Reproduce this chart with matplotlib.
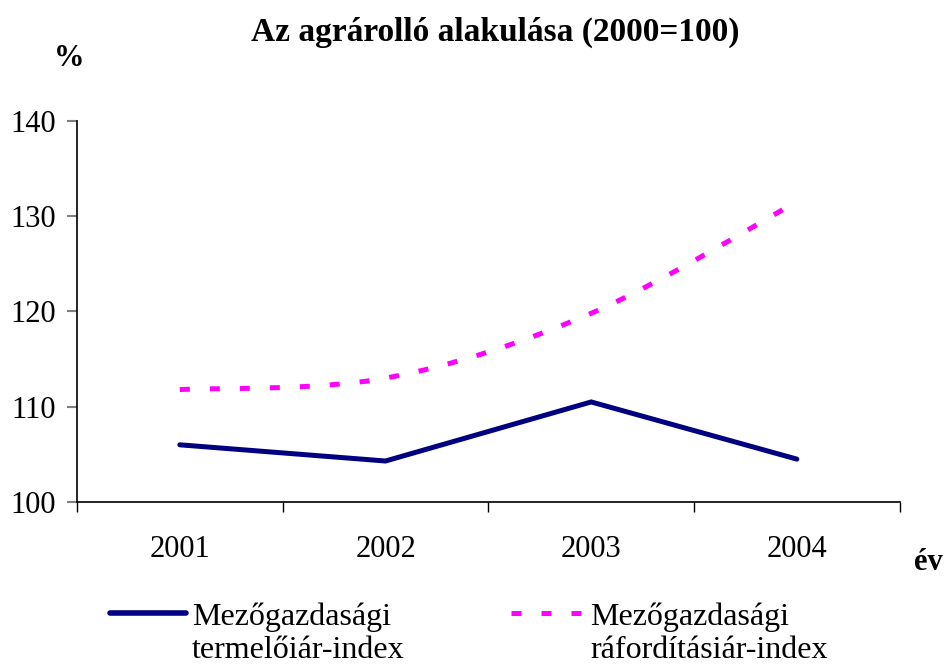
import matplotlib
matplotlib.use('agg')
import matplotlib.pyplot as plt
from matplotlib.path import Path
from matplotlib.patches import PathPatch
from matplotlib.lines import Line2D
import numpy as np

## data (2000=100)
years = ['2001', '2002', '2003', '2004']
termeloi = [106.0, 104.3, 110.5, 104.5]
raforditasi = [111.8, 113.0, 119.8, 131.5]
label_termeloi = ['Mezőgazdasági', 'termelőiár-index']
label_raforditasi = ['Mezőgazdasági', 'ráfordításiár-index']

NAVY = '#000080'
MAGENTA = '#FF00FF'
W, H = 945.0, 664.0
plt.rcParams['font.family'] = ['Liberation Serif', 'DejaVu Serif']


def smooth_path(xs, ys):
	## excel-like smoothed line: cubic bezier through points (catmull-rom, 1/6)
	pts = np.column_stack([xs, ys]).astype(float)
	n = len(pts)
	verts = [pts[0]]
	codes = [Path.MOVETO]
	for i in range(n - 1):
		p_prev = pts[i - 1] if i > 0 else pts[i]
		p_next = pts[i + 2] if i + 2 < n else pts[i + 1]
		c1 = pts[i] + (pts[i + 1] - p_prev) / 6.0
		c2 = pts[i + 1] - (p_next - pts[i]) / 6.0
		verts += [c1, c2, pts[i + 1]]
		codes += [Path.CURVE4] * 3
	return Path(verts, codes)


fig = plt.figure(figsize=(9.45, 6.64), dpi=100)
ax = fig.add_axes([0.0815, 0.244, 0.8705, 0.574])

x = np.arange(len(years))
ax.plot(x, termeloi, color=NAVY, lw=3.6, solid_capstyle='round', solid_joinstyle='miter')
ax.add_patch(PathPatch(smooth_path(x, raforditasi), fill=False, edgecolor=MAGENTA,
	lw=3.6, linestyle=(0, (2.0, 4.0)), capstyle='butt'))

ax.set_xlim(-0.5, len(years) - 0.5)
ax.set_ylim(100, 140)
ax.set_yticks([100, 110, 120, 130, 140])
ax.set_xticks(x)
ax.set_xticklabels(years)
ax.set_xticks(np.arange(-0.5, len(years), 1.0), minor=True)
ax.tick_params(axis='x', which='major', length=0, pad=24, labelsize=22)
ax.tick_params(axis='x', which='minor', length=7, width=1, direction='out', color='black')
ax.tick_params(axis='y', length=7, width=1.5, color='#808080', pad=8, labelsize=22)
for s in ['top', 'right']:
	ax.spines[s].set_visible(False)
for s in ['left', 'bottom']:
	ax.spines[s].set_linewidth(1.2)

fig.text(495 / W, 1 - 32 / H, 'Az agrárolló alakulása (2000=100)', ha='center', va='center',
	fontsize=24, fontweight='bold')
fig.text(69 / W, 1 - 58 / H, '%', ha='center', va='center', fontsize=22, fontweight='bold')
fig.text(943 / W, 1 - 563 / H, 'év', ha='right', va='center', fontsize=22, fontweight='bold')

## legend drawn by hand so the sample line sits on the first text line
y_leg = 1 - 613 / H
fig.add_artist(Line2D([110 / W, 186 / W], [y_leg, y_leg], color=NAVY, lw=4.0,
	solid_capstyle='round', transform=fig.transFigure))
fig.add_artist(Line2D([511 / W, 584 / W], [y_leg, y_leg], color=MAGENTA, lw=3.6,
	linestyle=(0, (2.0, 4.0)), transform=fig.transFigure))
for i, line in enumerate(label_termeloi):
	fig.text(192 / W, 1 - (625 + 33 * i) / H, line, ha='left', va='baseline', fontsize=23)
for i, line in enumerate(label_raforditasi):
	fig.text(590 / W, 1 - (625 + 33 * i) / H, line, ha='left', va='baseline', fontsize=23)

fig.savefig('out.png', dpi=100)
